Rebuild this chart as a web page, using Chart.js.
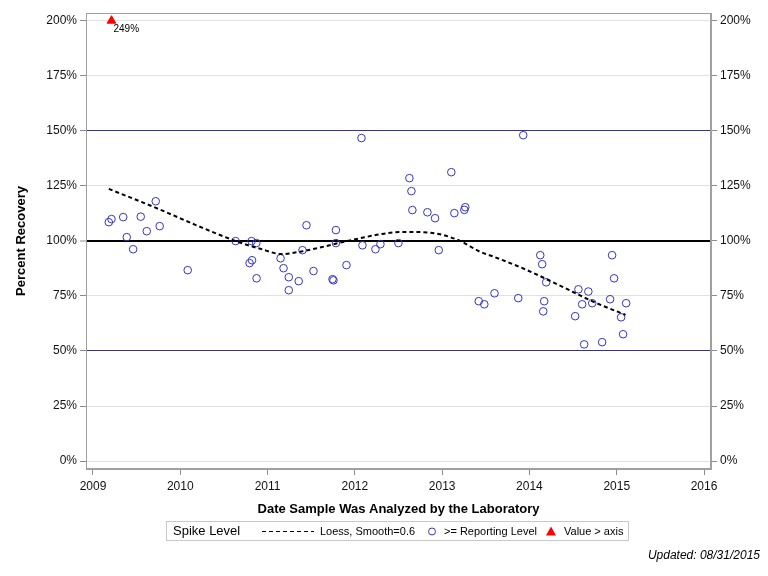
<!DOCTYPE html>
<html><head><meta charset="utf-8">
<script src="https://cdn.jsdelivr.net/npm/chart.js@4"></script>
<style>
html,body{margin:0;padding:0;background:#fff}
body{width:768px;height:576px;position:relative;overflow:hidden;font-family:"Liberation Sans",Arial,sans-serif;color:#000}
#wrap{position:absolute;left:0;top:0;width:768px;height:576px}
#legend{position:absolute;left:166px;top:521px;width:461px;height:18px;border:1px solid #c8c8c8;box-sizing:content-box}
#legend .it{position:absolute;top:0;height:18px;line-height:18px;font-size:11px;white-space:nowrap}
#legend .ttl{font-size:13px}
#legend svg{position:absolute;top:0}
#updated{position:absolute;right:8px;top:548px;font-size:12px;font-style:italic;white-space:nowrap}
</style></head>
<body>
<div id="wrap"><canvas id="c" width="768" height="576"></canvas></div>
<div id="legend">
  <span class="it ttl" style="left:6px">Spike Level</span>
  <svg style="left:95px" width="52" height="18"><line x1="0" y1="9.5" x2="52" y2="9.5" stroke="#000" stroke-width="1" stroke-dasharray="4 3"/></svg>
  <span class="it" style="left:153px">Loess, Smooth=0.6</span>
  <svg style="left:259px" width="12" height="18"><circle cx="6" cy="9.5" r="3.5" fill="none" stroke="#3333cc" stroke-width="1"/></svg>
  <span class="it" style="left:277px">&gt;= Reporting Level</span>
  <svg style="left:378px" width="12" height="18"><polygon points="6,4.5 11,13.5 1,13.5" fill="#ff0000"/></svg>
  <span class="it" style="left:397px">Value &gt; axis</span>
</div>
<div id="updated">Updated: 08/31/2015</div>
<script>
// ---- data (decimal years, percent recovery) ----
const sampleYears = [2009.181,2009.212,2009.346,2009.547,2009.719,2009.764,2009.616,2009.387,2009.460,2010.085,
  2010.634,2010.817,2010.871,2010.822,2010.794,2010.874,2011.149,2011.183,2011.243,2011.243,
  2011.357,2011.400,2011.446,2011.526,2011.744,2011.755,2011.783,2011.783,2011.904,2012.076,
  2012.087,2012.236,2012.293,2012.499,2012.625,2012.648,2012.659,2012.831,2012.919,2012.961,
  2013.105,2013.140,2013.254,2013.265,2013.419,2013.483,2013.600,2013.872,2013.929,2014.124,
  2014.146,2014.192,2014.169,2014.158,2014.561,2014.675,2014.524,2014.604,2014.719,2014.627,
  2014.833,2014.947,2014.970,2014.924,2015.108,2015.050,2015.073];
const sampleRecovery = [108.5,109.9,110.8,111.0,118.0,106.7,104.4,101.7,96.2,86.7,
  99.9,99.9,99.0,91.2,89.9,83.0,92.1,87.6,83.5,77.6,
  81.7,95.8,107.1,86.3,82.6,82.1,104.9,99.0,89.0,146.7,
  98.0,96.2,98.5,99.0,128.5,122.6,114.0,113.0,110.3,95.8,
  131.2,112.6,114.1,115.3,72.6,71.2,76.2,74.0,148.0,93.5,
  89.4,81.2,72.6,68.0,78.0,77.0,65.8,71.2,71.7,53.0,
  54.0,93.5,83.0,73.5,71.7,65.3,57.6];
const loessYears  = [2009.181,2009.715,2010.173,2010.630,2010.916,2011.165,2011.374,2011.602,2011.831,2012.060,
  2012.289,2012.517,2012.746,2012.975,2013.204,2013.432,2013.586,2013.968,2014.350,2014.730,2015.101];
const loessValues = [123.6,115.1,107.3,100.0,96.4,94.0,95.1,97.0,99.2,101.2,
  103.0,104.0,104.0,103.0,100.0,95.1,92.9,86.8,79.7,72.4,66.4];
const overYears  = [2009.212];
const overValues = [249];
const axisCap = 200;
const yTickValues = [0,25,50,75,100,125,150,175,200];
const xTickValues = [2009,2010,2011,2012,2013,2014,2015,2016];

const FONT = '"Liberation Sans", Arial, sans-serif';

const framePlugin = {
  id:'frame',
  beforeDatasetsDraw(chart){
    const a = chart.chartArea, ctx = chart.ctx;
    ctx.save();
    ctx.strokeStyle = '#a0a0a0'; ctx.lineWidth = 1;
    ctx.strokeRect(Math.round(a.left)+0.5, Math.round(a.top)+0.5, Math.round(a.right-a.left)-1, Math.round(a.bottom-a.top)-1);
    ctx.restore();
  }
};
const overLabelPlugin = {
  id:'overLabel',
  afterDatasetsDraw(chart){
    const meta = chart.getDatasetMeta(2), ctx = chart.ctx;
    ctx.save();
    ctx.font = '10px ' + FONT; ctx.fillStyle = '#000';
    ctx.textAlign = 'left'; ctx.textBaseline = 'middle';
    meta.data.forEach((el,i)=>{ ctx.fillText(overValues[i] + '%', el.x + 2, el.y + 9); });
    ctx.restore();
  }
};

const yGridColor = c => { const v = c.tick && c.tick.value; if (v === 100) return '#000000'; if (v === 50 || v === 150) return '#33339a'; return '#e2e2e2'; };
const yGridWidth = c => (c.tick && c.tick.value === 100) ? 2 : 1;

new Chart(document.getElementById('c'), {
  type:'scatter',
  data:{ datasets:[
    { label:'Loess, Smooth=0.6', data: loessYears.map((x,i)=>({x, y:loessValues[i]})), showLine:true,
      borderColor:'#000', borderWidth:2, borderDash:[4,3], pointRadius:0, cubicInterpolationMode:'monotone', fill:false },
    { label:'>= Reporting Level', data: sampleYears.map((x,i)=>({x, y:sampleRecovery[i]})),
      pointStyle:'circle', pointRadius:3.8, borderColor:'#3333cc', backgroundColor:'rgba(0,0,0,0)', borderWidth:1 },
    { label:'Value > axis', data: overYears.map((x,i)=>({x, y:Math.min(overValues[i], axisCap)})),
      pointStyle:'triangle', pointRadius:5, borderColor:'#ff0000', backgroundColor:'#ff0000', borderWidth:1 }
  ]},
  options:{
    responsive:false, animation:false, devicePixelRatio:1,
    layout:{ padding:{ top:13, bottom:56, left:0, right:0 } },
    plugins:{ legend:{display:false}, tooltip:{enabled:false} },
    scales:{
      x:{ type:'linear', min:2008.92, max:2016.08,
        afterBuildTicks: s => { s.ticks = xTickValues.map(v=>({value:v})); },
        afterFit: s => { s.height = 51; },
        ticks:{ callback: v => String(v), font:{family:FONT, size:12}, color:'#111', padding:4, maxRotation:0, autoSkip:false },
        grid:{ drawOnChartArea:false, drawTicks:true, tickLength:6, tickColor:'#8c8c8c', tickWidth:1 },
        border:{ display:true, color:'#a0a0a0' },
        title:{ display:true, text:'Date Sample Was Analyzed by the Laboratory', font:{family:FONT, size:13, weight:'bold'}, color:'#000', padding:{top:0, bottom:3} } },
      y:{ type:'linear', position:'left', min:-3.6, max:203.5,
        afterBuildTicks: s => { s.ticks = yTickValues.map(v=>({value:v})); },
        afterFit: s => { s.width = 86; },
        ticks:{ callback: v => v + '%', font:{family:FONT, size:12}, color:'#111', padding:3 },
        grid:{ color:yGridColor, lineWidth:yGridWidth, drawTicks:true, tickLength:6, tickColor:'#8c8c8c', tickWidth:1 },
        border:{ display:true, color:'#a0a0a0' },
        title:{ display:true, text:'Percent Recovery', font:{family:FONT, size:13, weight:'bold'}, color:'#000', padding:{top:14, bottom:0} } },
      y2:{ type:'linear', position:'right', min:-3.6, max:203.5,
        afterBuildTicks: s => { s.ticks = yTickValues.map(v=>({value:v})); },
        afterFit: s => { s.width = 57; },
        ticks:{ callback: v => v + '%', font:{family:FONT, size:12}, color:'#111', padding:3 },
        grid:{ drawOnChartArea:false, drawTicks:true, tickLength:6, tickColor:'#8c8c8c', tickWidth:1 },
        border:{ display:true, color:'#a0a0a0' } }
    }
  },
  plugins:[framePlugin, overLabelPlugin]
});
</script>
</body></html>
